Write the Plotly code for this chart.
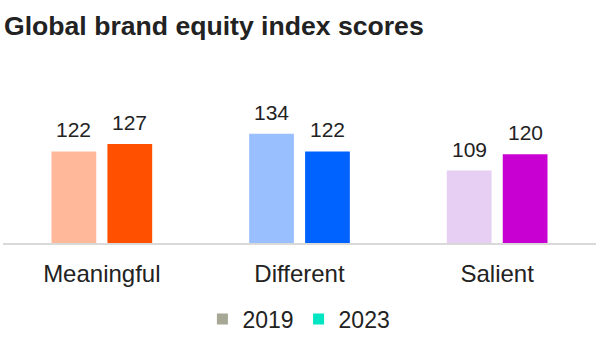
import plotly.graph_objects as go

categories = ["Meaningful", "Different", "Salient"]
scores_2019 = [122, 134, 109]
scores_2023 = [127, 122, 120]
colors_2019 = ["#FFB899", "#99BFFF", "#E6CFF2"]
colors_2023 = ["#FF5000", "#0062FF", "#C800D2"]
legend_names = ["2019", "2023"]
legend_colors = ["#A6A895", "#00E5C2"]
title_text = "Global brand equity index scores"

FONT = "Liberation Sans, Arial, sans-serif"
TXT = "#222222"

fig = go.Figure()
fig.add_trace(go.Bar(x=categories, y=scores_2019, marker=dict(color=colors_2019, line=dict(width=0)),
                     showlegend=False, hoverinfo="skip"))
fig.add_trace(go.Bar(x=categories, y=scores_2023, marker=dict(color=colors_2023, line=dict(width=0)),
                     showlegend=False, hoverinfo="skip"))
for name, col in zip(legend_names, legend_colors):
    fig.add_trace(go.Scatter(x=[None], y=[None], mode="markers", name=name,
                             marker=dict(symbol="square", size=11, color=col)))

annotations = []
for vals, shift in ((scores_2019, -28), (scores_2023, 28)):
    for c, v in zip(categories, vals):
        annotations.append(dict(x=c, y=v, xref="x", yref="y", text=str(v), showarrow=False,
                                xshift=shift, yanchor="bottom", yshift=8,
                                font=dict(family=FONT, size=21, color=TXT)))

fig.update_layout(
    width=600, height=349,
    margin=dict(l=3, r=4, t=125, b=106),
    paper_bgcolor="white", plot_bgcolor="white",
    barmode="group", bargap=0.434, bargroupgap=0.2,
    title=dict(text="<b>" + title_text + "</b>", x=4/600, xanchor="left", xref="container",
               y=0.952, yanchor="top", yref="container",
               font=dict(family=FONT, size=26.6, color=TXT)),
    xaxis=dict(showline=True, linecolor="#D9D9D9", linewidth=2, showgrid=False,
               ticks="outside", ticklen=8, tickcolor="rgba(0,0,0,0)",
               tickfont=dict(family=FONT, size=24, color=TXT)),
    yaxis=dict(range=[59.6, 140], visible=False, showgrid=False),
    legend=dict(orientation="h", x=0.499, xanchor="center", y=-0.644, yanchor="middle",
                font=dict(family=FONT, size=23, color=TXT), itemwidth=30,
                bgcolor="rgba(0,0,0,0)"),
    annotations=annotations,
)

fig.write_html("out.html")
